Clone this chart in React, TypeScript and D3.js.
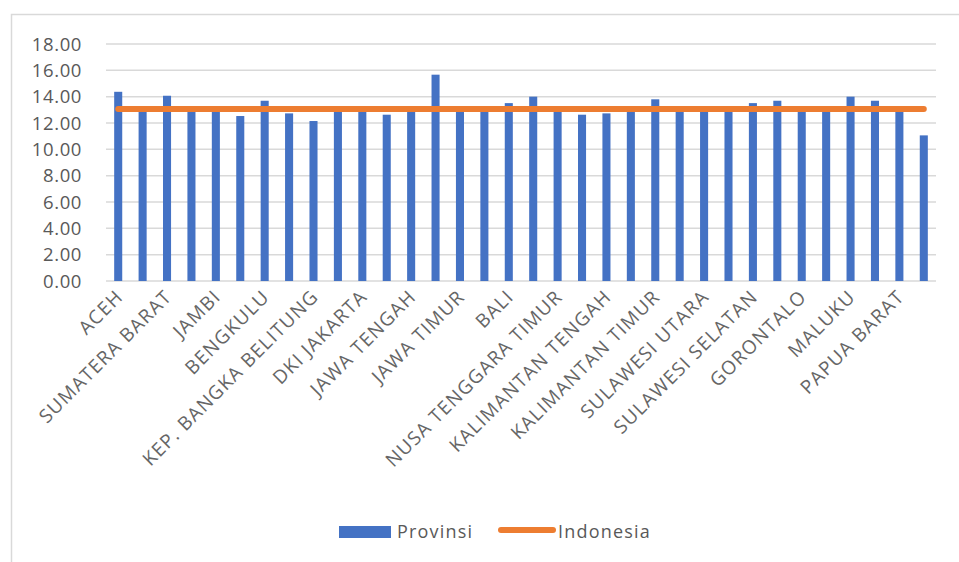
import React, { useRef, useEffect } from 'react';
import * as d3 from 'd3';

// Provinces (34), only every other one gets a label on the axis
const provinces = [
  'ACEH', 'SUMATERA UTARA', 'SUMATERA BARAT', 'RIAU', 'JAMBI', 'SUMATERA SELATAN',
  'BENGKULU', 'LAMPUNG', 'KEP. BANGKA BELITUNG', 'KEP. RIAU', 'DKI JAKARTA', 'JAWA BARAT',
  'JAWA TENGAH', 'DI YOGYAKARTA', 'JAWA TIMUR', 'BANTEN', 'BALI', 'NUSA TENGGARA BARAT',
  'NUSA TENGGARA TIMUR', 'KALIMANTAN BARAT', 'KALIMANTAN TENGAH', 'KALIMANTAN SELATAN',
  'KALIMANTAN TIMUR', 'KALIMANTAN UTARA', 'SULAWESI UTARA', 'SULAWESI TENGAH',
  'SULAWESI SELATAN', 'SULAWESI TENGGARA', 'GORONTALO', 'SULAWESI BARAT', 'MALUKU',
  'MALUKU UTARA', 'PAPUA BARAT', 'PAPUA',
];

const provinsi = [
  14.37, 12.95, 14.07, 13.0, 12.98, 12.53, 13.69, 12.73, 12.15, 12.96,
  13.02, 12.63, 12.97, 15.67, 13.0, 12.94, 13.51, 14.0, 12.99, 12.63,
  12.73, 12.98, 13.8, 12.96, 13.0, 12.97, 13.51, 13.69, 12.95, 12.99,
  14.0, 13.69, 12.97, 11.06,
];

const indonesia = [
  13.07, 13.07, 13.07, 13.07, 13.07, 13.07, 13.07, 13.07, 13.07, 13.07,
  13.07, 13.07, 13.07, 13.07, 13.07, 13.07, 13.07, 13.07, 13.07, 13.07,
  13.07, 13.07, 13.07, 13.07, 13.07, 13.07, 13.07, 13.07, 13.07, 13.07,
  13.07, 13.07, 13.07, 13.07,
];

const yTicks = [0, 2, 4, 6, 8, 10, 12, 14, 16, 18];

const App = () => {
  const ref = useRef<SVGSVGElement>(null);

  useEffect(() => {
    const svg = d3.select(ref.current);
    svg.selectAll('*').remove();

    const font = "'Open Sans', 'Liberation Sans', sans-serif";
    const textColor = '#595959';

    // chart frame (only top and left edges are inside the picture)
    svg.append('rect')
      .attr('x', 11.5).attr('y', 14.5)
      .attr('width', 1000).attr('height', 600)
      .attr('fill', 'none')
      .attr('stroke', '#d9d9d9')
      .attr('stroke-width', 1.5);

    const x = d3.scaleBand<string>()
      .domain(provinces)
      .range([106, 936])
      .paddingInner(0.67)
      .paddingOuter(0.335);

    const y = d3.scaleLinear().domain([0, 18]).range([281, 44]);

    // gridlines
    svg.append('g')
      .selectAll('line')
      .data(yTicks)
      .enter()
      .append('line')
      .attr('x1', 106).attr('x2', 936)
      .attr('y1', d => y(d)).attr('y2', d => y(d))
      .attr('stroke', '#d9d9d9')
      .attr('stroke-width', 1.5);

    // y labels
    svg.append('g')
      .selectAll('text')
      .data(yTicks)
      .enter()
      .append('text')
      .attr('x', 82)
      .attr('y', d => y(d))
      .attr('dy', '0.36em')
      .attr('text-anchor', 'end')
      .attr('font-family', font)
      .attr('font-size', 18.5)
      .attr('letter-spacing', 0.6)
      .attr('fill', textColor)
      .text(d => d.toFixed(2));

    // bars
    svg.append('g')
      .selectAll('rect')
      .data(provinsi)
      .enter()
      .append('rect')
      .attr('x', (d, i) => x(provinces[i]) as number)
      .attr('y', d => y(d))
      .attr('width', x.bandwidth())
      .attr('height', d => y(0) - y(d))
      .attr('fill', '#4472c4');

    // national line
    const line = d3.line<number>()
      .x((d, i) => (x(provinces[i]) as number) + x.bandwidth() / 2)
      .y(d => y(d));

    svg.append('path')
      .datum(indonesia)
      .attr('d', line)
      .attr('fill', 'none')
      .attr('stroke', '#ed7d31')
      .attr('stroke-width', 6)
      .attr('stroke-linecap', 'round');

    // x labels (every other category)
    svg.append('g')
      .selectAll('text')
      .data(provinces.filter((d, i) => i % 2 === 0))
      .enter()
      .append('text')
      .attr('transform', d => `translate(${(x(d) as number) + x.bandwidth() / 2 + 6},${298}) rotate(-45)`)
      .attr('text-anchor', 'end')
      .attr('font-family', font)
      .attr('font-size', 19)
      .attr('letter-spacing', 1.2)
      .attr('fill', '#666')
      .text(d => d);

    // legend
    const legend = svg.append('g').attr('font-family', font).attr('font-size', 18).attr('fill', textColor);
    legend.append('rect')
      .attr('x', 339).attr('y', 526).attr('width', 52).attr('height', 12)
      .attr('fill', '#4472c4');
    legend.append('text')
      .attr('x', 397).attr('y', 532).attr('dy', '0.36em')
      .attr('letter-spacing', 1.2)
      .text('Provinsi');
    legend.append('line')
      .attr('x1', 501).attr('x2', 553).attr('y1', 530).attr('y2', 530)
      .attr('stroke', '#ed7d31').attr('stroke-width', 6).attr('stroke-linecap', 'round');
    legend.append('text')
      .attr('x', 558).attr('y', 532).attr('dy', '0.36em')
      .attr('letter-spacing', 1.2)
      .text('Indonesia');
  }, []);

  return (
    <svg
      ref={ref}
      width={959}
      height={562}
      style={{ position: 'fixed', left: 0, top: 0, background: '#fff' }}
    />
  );
};

export default App;
